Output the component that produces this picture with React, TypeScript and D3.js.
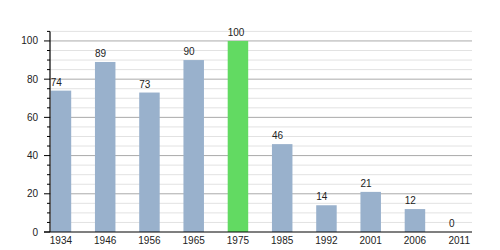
import React from "react";
import * as d3 from "d3";

const years = ["1934", "1946", "1956", "1965", "1975", "1985", "1992", "2001", "2006", "2011"];
const values = [74, 89, 73, 90, 100, 46, 14, 21, 12, 0];
const highlight = ["1975"];
const majorTicks = [0, 20, 40, 60, 80, 100];
const minorTicks = d3.range(0, 106, 5);

const W = 500;
const H = 250;

export default function App() {
  const y = d3.scaleLinear().domain([0, 105]).range([232, 31.4]);
  const x = d3
    .scaleBand<string>()
    .domain(years)
    .range([50.7, 469.45])
    .paddingInner(0.5367)
    .paddingOuter(0);
  const left = 50;
  const right = 472;
  const font = "'Liberation Sans', Arial, sans-serif";

  return (
    <div style={{ position: "absolute", left: 0, top: 0 }}>
      <svg width={W} height={H} style={{ display: "block" }} fontFamily={font} fontSize={10}>
        <rect width={W} height={H} fill="#fff" />
        {minorTicks
          .filter((t) => !majorTicks.includes(t))
          .map((t) => (
            <line key={"g" + t} x1={left} x2={right} y1={y(t)} y2={y(t)} stroke="#e2e2e2" strokeWidth={1} />
          ))}
        {majorTicks
          .filter((t) => t > 0)
          .map((t) => (
            <line key={"G" + t} x1={left} x2={right} y1={y(t)} y2={y(t)} stroke="#aaaaaa" strokeWidth={1} />
          ))}
        {years.map((yr, i) => (
          <rect
            key={yr}
            x={x(yr)!}
            y={y(values[i])}
            width={x.bandwidth()}
            height={y(0) - y(values[i])}
            fill={highlight.includes(yr) ? "#62da62" : "#99b1cc"}
          />
        ))}
        {years.map((yr, i) => (
          <text key={"l" + yr} x={x(yr)!} y={y(values[i]) - 5} fill="#222" textAnchor="start">
            {values[i]}
          </text>
        ))}
        <line x1={left} x2={left} y1={y(105)} y2={y(0)} stroke="#000" strokeWidth={1.2} />
        <line x1={44} x2={right} y1={y(0)} y2={y(0)} stroke="#000" strokeWidth={1.2} />
        {minorTicks.map((t) => (
          <line
            key={"t" + t}
            x1={majorTicks.includes(t) ? 44 : 47}
            x2={left}
            y1={y(t)}
            y2={y(t)}
            stroke="#000"
            strokeWidth={1}
          />
        ))}
        {majorTicks.map((t) => (
          <text key={"y" + t} x={38} y={y(t)} dy="0.35em" textAnchor="end" fill="#222">
            {t}
          </text>
        ))}
        {years.map((yr) => (
          <text key={"x" + yr} x={x(yr)! + x.bandwidth() / 2} y={244} textAnchor="middle" fill="#222">
            {yr}
          </text>
        ))}
      </svg>
    </div>
  );
}
